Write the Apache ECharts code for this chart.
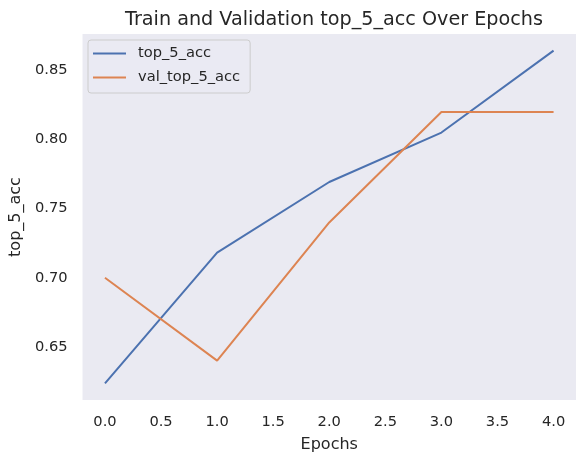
<!DOCTYPE html>
<html>
<head>
<meta charset="utf-8">
<script src="https://cdn.jsdelivr.net/npm/echarts@6/dist/echarts.min.js"></script>
<style>
  html, body { margin: 0; padding: 0; background: #fff; }
  #chart { width: 586px; height: 464px; }
</style>
</head>
<body>
<div id="chart"></div>
<script>
// 数据
const epochs = [0, 1, 2, 3, 4];
const top5Acc = [0.6235, 0.7182, 0.7693, 0.8051, 0.8644];
const valTop5Acc = [0.70, 0.64, 0.74, 0.82, 0.82];
const xTicks = [0, 0.5, 1, 1.5, 2, 2.5, 3, 3.5, 4];
const yTicks = [0.65, 0.70, 0.75, 0.80, 0.85];

const textColor = '#262626';
const fontFamily = 'DejaVu Sans';

const chart = echarts.init(document.getElementById('chart'));

const option = {
  animation: false,
  textStyle: { fontFamily: fontFamily, color: textColor },
  title: {
    text: 'Train and Validation top_5_acc Over Epochs',
    left: 329,
    textAlign: 'center',
    top: 6,
    textStyle: { fontFamily: fontFamily, fontSize: 19.2, fontWeight: 'normal', color: textColor }
  },
  grid: {
    left: 82,
    right: 10,
    top: 34,
    bottom: 64,
    show: true,
    backgroundColor: '#EAEAF2',
    borderWidth: 0
  },
  legend: {
    orient: 'vertical',
    left: 88,
    top: 40,
    padding: [5, 10, 7, 5],
    itemGap: 7,
    itemWidth: 33,
    itemHeight: 2,
    icon: 'rect',
    backgroundColor: 'rgba(234,234,242,0.8)',
    borderColor: '#cccccc',
    borderWidth: 1,
    borderRadius: 3,
    textStyle: {
      fontFamily: fontFamily,
      fontSize: 14.67,
      lineHeight: 17,
      color: textColor,
      padding: [0, 0, 0, 7]
    }
  },
  xAxis: {
    type: 'value',
    min: -0.2,
    max: 4.2,
    name: 'Epochs',
    nameLocation: 'middle',
    nameGap: 37,
    nameTextStyle: { fontFamily: fontFamily, fontSize: 16, color: textColor },
    axisLine: { show: false },
    axisTick: { show: false, customValues: xTicks },
    splitLine: { show: false },
    axisLabel: {
      customValues: xTicks,
      margin: 15,
      fontFamily: fontFamily,
      fontSize: 14.67,
      color: textColor,
      formatter: v => v.toFixed(1)
    }
  },
  yAxis: {
    type: 'value',
    min: v => v.min - 0.05 * (v.max - v.min),
    max: v => v.max + 0.05 * (v.max - v.min),
    name: 'top_5_acc',
    nameLocation: 'middle',
    nameGap: 54,
    nameTextStyle: { fontFamily: fontFamily, fontSize: 16, color: textColor },
    axisLine: { show: false },
    axisTick: { show: false, customValues: yTicks },
    splitLine: { show: false },
    axisLabel: {
      customValues: yTicks,
      margin: 15,
      fontFamily: fontFamily,
      fontSize: 14.67,
      color: textColor,
      formatter: v => v.toFixed(2)
    }
  },
  series: [
    {
      name: 'top_5_acc',
      type: 'line',
      data: epochs.map((e, i) => [e, top5Acc[i]]),
      showSymbol: false,
      symbol: 'none',
      lineStyle: { color: '#4C72B0', width: 2 },
      itemStyle: { color: '#4C72B0' }
    },
    {
      name: 'val_top_5_acc',
      type: 'line',
      data: epochs.map((e, i) => [e, valTop5Acc[i]]),
      showSymbol: false,
      symbol: 'none',
      lineStyle: { color: '#DD8452', width: 2 },
      itemStyle: { color: '#DD8452' }
    }
  ]
};

chart.setOption(option);
</script>
</body>
</html>
